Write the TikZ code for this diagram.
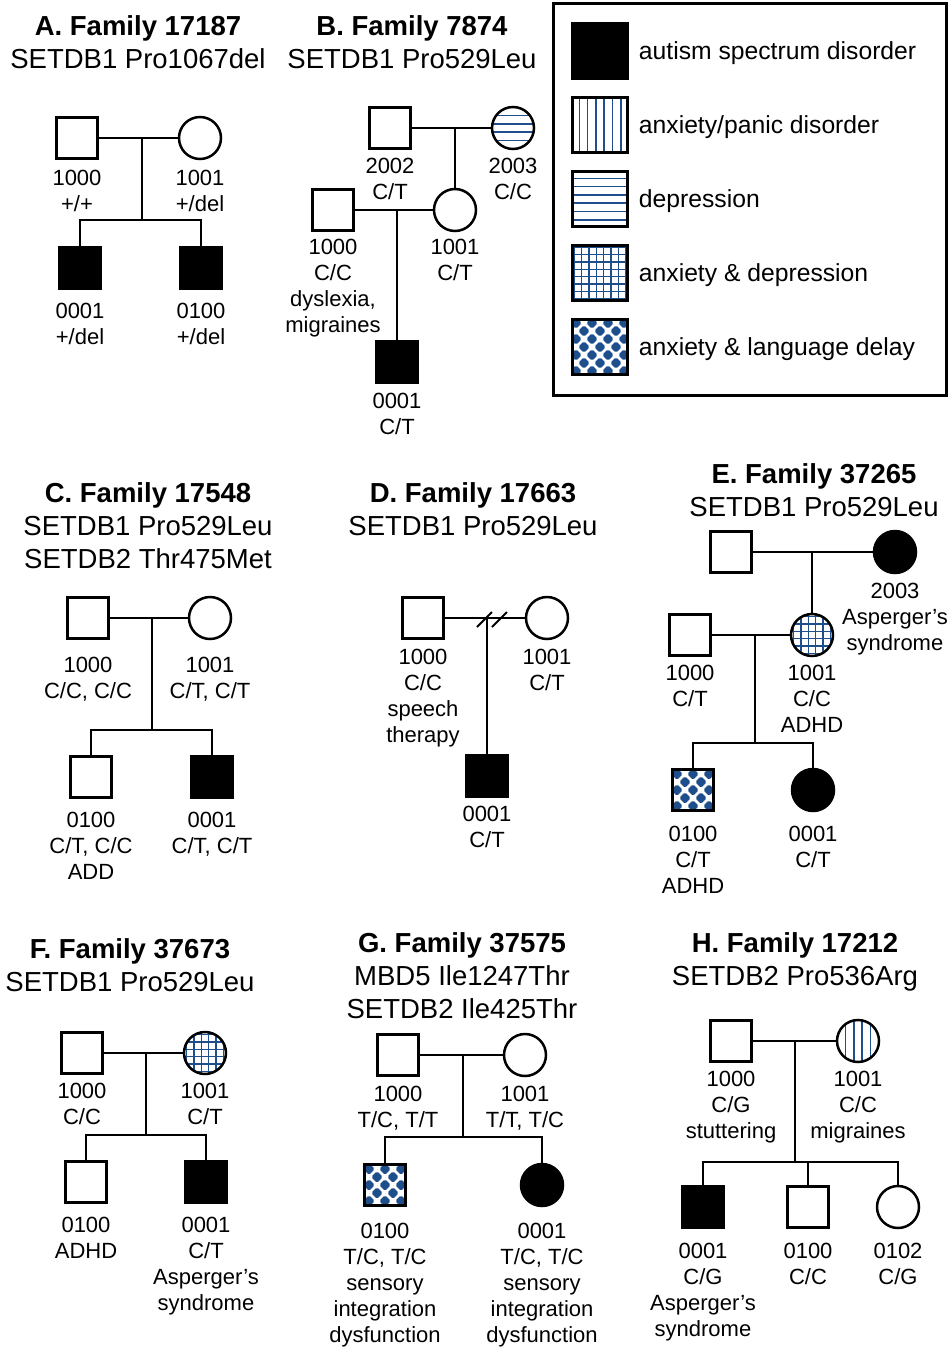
\documentclass[tikz,border=0pt]{standalone}
\usepackage{fontspec}
\setmainfont{Liberation Sans}
\usetikzlibrary{positioning}
\definecolor{pblue}{HTML}{1F4E8C}
\newcommand\labfont{\fontsize{22}{26}\selectfont}
\newcommand\ttlfont{\fontsize{27.5}{33}\selectfont}
\newcommand\keyfont{\fontsize{24.7}{29}\selectfont}
\tikzset{
  male/.style={draw,line width=2.5pt,minimum size=41pt,inner sep=0pt},
  female/.style={circle,draw,line width=2.5pt,minimum size=42pt,inner sep=0pt},
  keybox/.style={draw,line width=2.5pt,minimum size=55pt,inner sep=0pt},
  asd/.style={fill=black},
  lab/.style={font=\labfont,align=center,inner sep=0pt},
  ttl/.style={font=\ttlfont,align=center,inner sep=0pt,anchor=north},
  keytxt/.style={font=\keyfont,anchor=base west,inner sep=0pt},
  rel/.style={line width=2.5pt},
  % fills for the other conditions
  vstripes/.style={path picture={
    \foreach \i in {-5,...,4}
      \draw[pblue,line width=1.5pt]
        ([xshift={(\i+0.5)*8.3}]path picture bounding box.north)
        -- ([xshift={(\i+0.5)*8.3}]path picture bounding box.south);}},
  hstripes/.style={path picture={
    \foreach \i in {-5,...,4}
      \draw[pblue,line width=1.5pt]
        ([yshift={(\i+0.5)*8.3}]path picture bounding box.west)
        -- ([yshift={(\i+0.5)*8.3}]path picture bounding box.east);}},
  grid/.style={path picture={
    \foreach \i in {-5,...,4}{
      \draw[pblue,line width=1.3pt]
        ([xshift={(\i+0.5)*7.4}]path picture bounding box.north)
        -- ([xshift={(\i+0.5)*7.4}]path picture bounding box.south);
      \draw[pblue,line width=1.3pt]
        ([yshift={(\i+0.5)*7.4}]path picture bounding box.west)
        -- ([yshift={(\i+0.5)*7.4}]path picture bounding box.east);}}},
  diamonds/.style={path picture={
    \foreach \i in {-3,...,3}
      \foreach \j in {-3,...,3}{
        \fill[pblue,rounded corners=1.5pt] ([shift={(\i*16,\j*16)}]path picture bounding box.center)
          +(-5.8,0) -- +(0,5.8) -- +(5.8,0) -- +(0,-5.8) -- cycle;
        \fill[pblue,rounded corners=1.5pt] ([shift={(\i*16+8,\j*16+8)}]path picture bounding box.center)
          +(-5.8,0) -- +(0,5.8) -- +(5.8,0) -- +(0,-5.8) -- cycle;}}}
}
\begin{document}
\begin{tikzpicture}[x=1pt,y=-1pt]
  \useasboundingbox (0,0) rectangle (950,1347);

  % A
  \node[ttl] (aT) at (138,15) {\textbf{A. Family 17187}\\SETDB1 Pro1067del};
  \node[male] (a1000) at (77,138) {};
  \node[female] (a1001) at (200,138) {};
  \node[male,asd] (a0001) at (80,268) {};
  \node[male,asd] (a0100) at (201,268) {};
  \coordinate (aM) at (142,138);
  \coordinate (aS) at (142,220);
  \draw[rel] (a1000) -- (a1001);
  \draw[rel] (aM) -- (aS);
  \draw[rel] (a0001) |- (aS) -| (a0100);
  \node[lab,below=10pt of a1000] (a1000l) {1000\\+/+};
  \node[lab,below=10pt of a1001] (a1001l) {1001\\+/del};
  \node[lab,below=13pt of a0001] (a0001l) {0001\\+/del};
  \node[lab,below=13pt of a0100] (a0100l) {0100\\+/del};

  % B
  \node[ttl] (bT) at (412,15) {\textbf{B. Family 7874}\\SETDB1 Pro529Leu};
  \node[male] (b2002) at (390,128) {};
  \node[female,hstripes] (b2003) at (513,128) {};
  \node[male] (b1000) at (333,210) {};
  \node[female] (b1001) at (455,210) {};
  \node[male,asd] (b0001) at (397,362) {};
  \coordinate (bM1) at (455,128);
  \coordinate (bM2) at (397,210);
  \draw[rel] (b2002) -- (b2003);
  \draw[rel] (bM1) -- (b1001);
  \draw[rel] (b1000) -- (b1001);
  \draw[rel] (bM2) -- (b0001);
  \node[lab,below=8pt of b2002] (b2002l) {2002\\C/T};
  \node[lab,below=8pt of b2003] (b2003l) {2003\\C/C};
  \node[lab,below=7pt of b1000] (b1000l) {1000\\C/C\\dyslexia,\\migraines};
  \node[lab,below=7pt of b1001] (b1001l) {1001\\C/T};
  \node[lab,below=9pt of b0001] (b0001l) {0001\\C/T};

  % legend
  \draw[line width=3pt] (553,3) rectangle (946,395);
  \node[keybox,asd] (kAsd) at (600,51) {};
  \node[keybox,vstripes] (kAnx) at (600,125) {};
  \node[keybox,hstripes] (kDep) at (600,199) {};
  \node[keybox,grid] (kBoth) at (600,273) {};
  \node[keybox,diamonds] (kLang) at (600,347) {};
  \node[keytxt] (kAsdT) at ([xshift=10pt,yshift=-8.8pt]kAsd.east) {autism spectrum disorder};
  \node[keytxt] (kAnxT) at ([xshift=10pt,yshift=-8.8pt]kAnx.east) {anxiety/panic disorder};
  \node[keytxt] (kDepT) at ([xshift=10pt,yshift=-8.8pt]kDep.east) {depression};
  \node[keytxt] (kBothT) at ([xshift=10pt,yshift=-8.8pt]kBoth.east) {anxiety \& depression};
  \node[keytxt] (kLangT) at ([xshift=10pt,yshift=-8.8pt]kLang.east) {anxiety \& language delay};

  % C
  \node[ttl] (cT) at (148,482) {\textbf{C. Family 17548}\\SETDB1 Pro529Leu\\SETDB2 Thr475Met};
  \node[male] (c1000) at (88,618) {};
  \node[female] (c1001) at (210,618) {};
  \node[male] (c0100) at (91,777) {};
  \node[male,asd] (c0001) at (212,777) {};
  \coordinate (cM) at (152,618);
  \coordinate (cS) at (152,730);
  \draw[rel] (c1000) -- (c1001);
  \draw[rel] (cM) -- (cS);
  \draw[rel] (c0100) |- (cS) -| (c0001);
  \node[lab,below=17pt of c1000] (c1000l) {1000\\C/C, C/C};
  \node[lab,below=17pt of c1001] (c1001l) {1001\\C/T, C/T};
  \node[lab,below=13pt of c0100] (c0100l) {0100\\C/T, C/C\\ADD};
  \node[lab,below=13pt of c0001] (c0001l) {0001\\C/T, C/T};

  % D
  \node[ttl] (dT) at (473,482) {\textbf{D. Family 17663}\\SETDB1 Pro529Leu};
  \node[male] (d1000) at (423,618) {};
  \node[female] (d1001) at (547,618) {};
  \node[male,asd] (d0001) at (487,776) {};
  \coordinate (dM) at (487,618);
  \coordinate (dX) at (492,619);
  \draw[rel] (d1000) -- (d1001);
  \draw[rel] (dM) -- (d0001);
  \draw[line width=2pt] ([shift={(-15,8)}]dX) -- ([shift={(0,-7)}]dX);
  \draw[line width=2pt] ([shift={(0,8)}]dX) -- ([shift={(15,-7)}]dX);
  \node[lab,below=9pt of d1000] (d1000l) {1000\\C/C\\speech\\therapy};
  \node[lab,below=9pt of d1001] (d1001l) {1001\\C/T};
  \node[lab,below=8pt of d0001] (d0001l) {0001\\C/T};

  % E
  \node[ttl] (eT) at (814,463) {\textbf{E. Family 37265}\\SETDB1 Pro529Leu};
  \node[male] (eGf) at (731,552) {};
  \node[female,asd] (e2003) at (895,552) {};
  \node[male] (e1000) at (690,635) {};
  \node[female,grid] (e1001) at (812,635) {};
  \node[male,diamonds] (e0100) at (693,790) {};
  \node[female,asd] (e0001) at (813,790) {};
  \coordinate (eM1) at (812,552);
  \coordinate (eM2) at (755,635);
  \coordinate (eS) at (755,743);
  \draw[rel] (eGf) -- (e2003);
  \draw[rel] (eM1) -- (e1001);
  \draw[rel] (e1000) -- (e1001);
  \draw[rel] (eM2) -- (eS);
  \draw[rel] (e0100) |- (eS) -| (e0001);
  \node[lab,below=9pt of e2003] (e2003l) {2003\\Asperger’s\\syndrome};
  \node[lab,below=8pt of e1000] (e1000l) {1000\\C/T};
  \node[lab,below=8pt of e1001] (e1001l) {1001\\C/C\\ADHD};
  \node[lab,below=14pt of e0100] (e0100l) {0100\\C/T\\ADHD};
  \node[lab,below=14pt of e0001] (e0001l) {0001\\C/T};

  % F
  \node[ttl] (fT) at (130,938) {\textbf{F. Family 37673}\\SETDB1 Pro529Leu};
  \node[male] (f1000) at (82,1053) {};
  \node[female,grid] (f1001) at (205,1053) {};
  \node[male] (f0100) at (86,1182) {};
  \node[male,asd] (f0001) at (206,1182) {};
  \coordinate (fM) at (146,1053);
  \coordinate (fS) at (146,1135);
  \draw[rel] (f1000) -- (f1001);
  \draw[rel] (fM) -- (fS);
  \draw[rel] (f0100) |- (fS) -| (f0001);
  \node[lab,below=8pt of f1000] (f1000l) {1000\\C/C};
  \node[lab,below=8pt of f1001] (f1001l) {1001\\C/T};
  \node[lab,below=13pt of f0100] (f0100l) {0100\\ADHD};
  \node[lab,below=13pt of f0001] (f0001l) {0001\\C/T\\Asperger’s\\syndrome};

  % G
  \node[ttl] (gT) at (462,932) {\textbf{G. Family 37575}\\MBD5 Ile1247Thr\\SETDB2 Ile425Thr};
  \node[male] (g1000) at (398,1055) {};
  \node[female] (g1001) at (525,1055) {};
  \node[male,diamonds] (g0100) at (385,1185) {};
  \node[female,asd] (g0001) at (542,1185) {};
  \coordinate (gM) at (463,1055);
  \coordinate (gS) at (463,1137);
  \draw[rel] (g1000) -- (g1001);
  \draw[rel] (gM) -- (gS);
  \draw[rel] (g0100) |- (gS) -| (g0001);
  \node[lab,below=9pt of g1000] (g1000l) {1000\\T/C, T/T};
  \node[lab,below=9pt of g1001] (g1001l) {1001\\T/T, T/C};
  \node[lab,below=16pt of g0100] (g0100l) {0100\\T/C, T/C\\sensory\\integration\\dysfunction};
  \node[lab,below=16pt of g0001] (g0001l) {0001\\T/C, T/C\\sensory\\integration\\dysfunction};

  % H
  \node[ttl] (hT) at (795,932) {\textbf{H. Family 17212}\\SETDB2 Pro536Arg};
  \node[male] (h1000) at (731,1041) {};
  \node[female,vstripes] (h1001) at (858,1041) {};
  \node[male,asd] (h0001) at (703,1207) {};
  \node[male] (h0100) at (808,1207) {};
  \node[female] (h0102) at (898,1207) {};
  \coordinate (hM) at (795,1041);
  \coordinate (hS) at (795,1162);
  \coordinate (hS2) at (808,1162);
  \draw[rel] (h1000) -- (h1001);
  \draw[rel] (hM) -- (hS);
  \draw[rel] (h0001) |- (hS) -| (h0102);
  \draw[rel] (hS2) -- (h0100);
  \node[lab,below=8pt of h1000] (h1000l) {1000\\C/G\\stuttering};
  \node[lab,below=8pt of h1001] (h1001l) {1001\\C/C\\migraines};
  \node[lab,below=14pt of h0001] (h0001l) {0001\\C/G\\Asperger’s\\syndrome};
  \node[lab,below=14pt of h0100] (h0100l) {0100\\C/C};
  \node[lab,below=14pt of h0102] (h0102l) {0102\\C/G};
\end{tikzpicture}
\end{document}
